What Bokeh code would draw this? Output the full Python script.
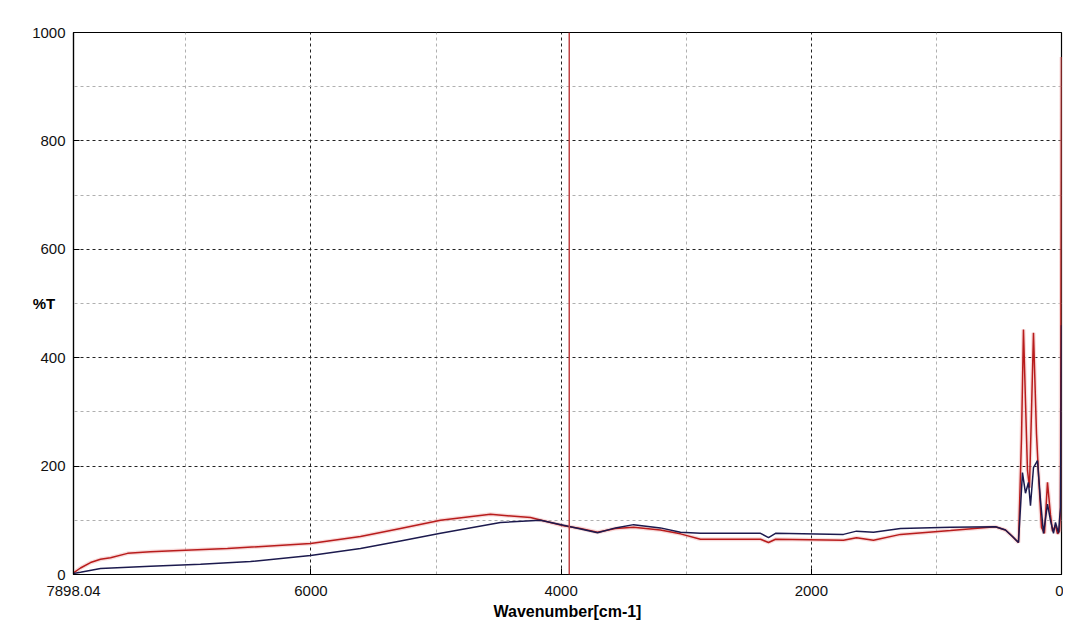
from bokeh.plotting import figure
from bokeh.models import FixedTicker, Span, Range1d
from bokeh.embed import file_html
from bokeh.resources import INLINE

# Wavenumber [cm-1] and %T for the red spectrum
red_wn = [7898, 7842, 7762, 7682, 7602, 7466, 7283, 7099, 6667, 6003, 5604, 5284,
          4964, 4565, 4245, 3981, 3845, 3709, 3565, 3421, 3206, 3046, 2886, 2406,
          2342, 2286, 1743, 1639, 1503, 1287, 887, 528, 448, 392, 344, 320, 304,
          288, 272, 256, 240, 224, 200, 184, 160, 136, 112, 88, 72, 48, 32, 16, 8, 0]
red_t = [3, 12, 22, 28, 31, 39, 42, 44, 48, 57, 70, 85,
         100, 111, 105, 90, 85, 78, 85, 87, 82, 75, 65, 65,
         59, 65, 63, 68, 63, 74, 81, 88, 82, 70, 59, 250, 452,
         320, 192, 160, 300, 446, 260, 186, 87, 76, 170, 110, 80, 90, 75, 80, 120, 955]

# Wavenumber [cm-1] and %T for the dark blue spectrum
blue_wn = [7898, 7842, 7682, 7283, 6883, 6483, 6003, 5604, 5284, 4964, 4485, 4165,
           3925, 3709, 3565, 3421, 3206, 3046, 2886, 2406, 2342, 2286, 1743, 1639,
           1503, 1287, 887, 528, 448, 392, 344, 312, 288, 264, 248, 224, 192, 168,
           144, 112, 88, 64, 48, 24, 8, 0]
blue_t = [2, 4, 11, 15, 19, 24, 35, 48, 62, 76, 96, 100,
          88, 77, 86, 92, 86, 78, 76, 76, 68, 76, 74, 80,
          78, 85, 87, 88, 82, 70, 59, 188, 150, 170, 127, 197, 210, 137,
          76, 130, 100, 76, 96, 76, 124, 460]

x_ticks = [7898.04, 6000, 4000, 2000, 0]
x_minor = [7000, 5000, 3000, 1000]
y_ticks = [0, 200, 400, 600, 800, 1000]
y_minor = [100, 300, 500, 700, 900]
cursor_wn = 3935

FONT = "Liberation Sans"

p = figure(width=1063, height=625,
           x_range=Range1d(7898.04, 0), y_range=Range1d(0, 1000),
           output_backend="svg", toolbar_location=None,
           min_border_left=73, min_border_right=2,
           min_border_top=32, min_border_bottom=51)

p.background_fill_color = "white"
p.border_fill_color = "white"
p.outline_line_color = "black"
p.outline_line_width = 1.2

p.xaxis.ticker = FixedTicker(ticks=x_ticks, minor_ticks=x_minor)
p.yaxis.ticker = FixedTicker(ticks=y_ticks, minor_ticks=y_minor)
p.xaxis.major_label_overrides = {7898.04: "7898.04", 6000: "6000", 4000: "4000", 2000: "2000", 0: "0"}

for ax in (p.xaxis, p.yaxis):
    ax.axis_line_color = "black"
    ax.axis_line_width = 1.2
    ax.major_tick_in = 6
    ax.major_tick_out = 0
    ax.major_tick_line_color = "black"
    ax.minor_tick_line_color = None
    ax.major_label_text_font = FONT
    ax.major_label_text_font_size = "15px"
    ax.major_label_text_color = "#111111"

p.yaxis.major_label_standoff = 4
p.xaxis.major_label_standoff = 7
p.xaxis.axis_label = "Wavenumber[cm-1]"
p.xaxis.axis_label_text_font = FONT
p.xaxis.axis_label_text_font_style = "bold"
p.xaxis.axis_label_text_font_size = "16px"
p.xaxis.axis_label_text_color = "black"
p.xaxis.axis_label_standoff = 4

p.yaxis.axis_label = "%T"
p.yaxis.axis_label_orientation = "horizontal"
p.yaxis.axis_label_text_font = FONT
p.yaxis.axis_label_text_font_style = "bold"
p.yaxis.axis_label_text_font_size = "15px"
p.yaxis.axis_label_text_color = "black"
p.yaxis.axis_label_standoff = -26

for g in (p.xgrid, p.ygrid):
    g.grid_line_color = "#222222"
    g.grid_line_dash = "3 3"
    g.grid_line_width = 1
    g.minor_grid_line_color = "#b0b0b0"
    g.minor_grid_line_dash = "3 3"
    g.minor_grid_line_width = 1

p.line(red_wn, red_t, line_color="#f2b8b8", line_width=4, line_alpha=0.5)
p.line(red_wn, red_t, line_color="#b81c1c", line_width=1.5)
p.line(blue_wn, blue_t, line_color="#1c1a4e", line_width=1.5)

p.add_layout(Span(location=cursor_wn, dimension="height", line_color="#c04545", line_width=1.5))

open("out.html", "w").write(file_html(p, INLINE))
